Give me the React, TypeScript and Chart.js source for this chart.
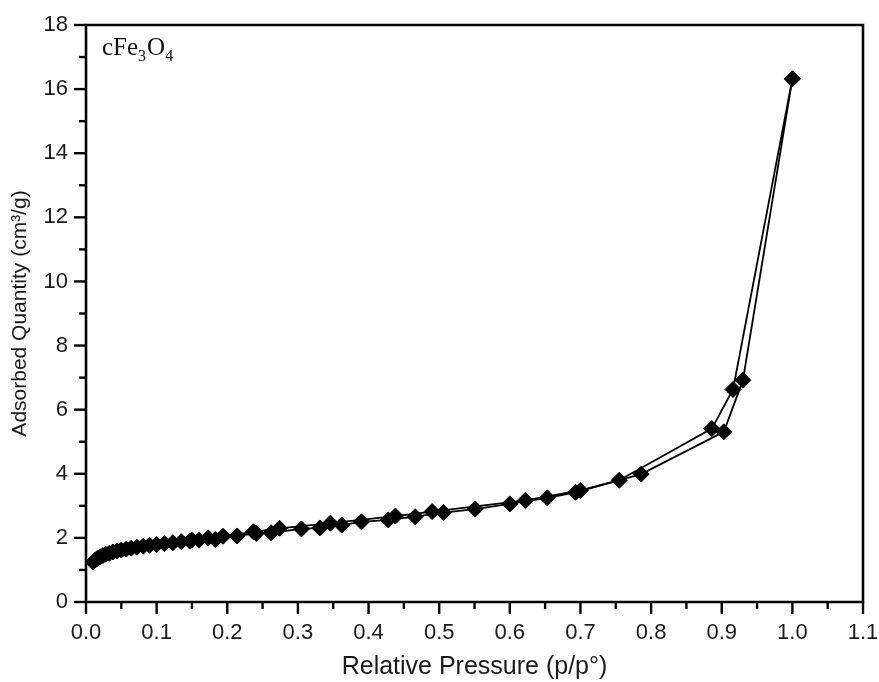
import React, { useEffect, useRef } from 'react';
import { Chart, registerables } from 'chart.js';

Chart.register(...registerables);

// Adsorption branch (relative pressure, adsorbed quantity)
const adsorptionP = [
  0.010, 0.013, 0.016, 0.020, 0.024, 0.028, 0.033, 0.038, 0.044, 0.050, 0.057,
  0.064, 0.072, 0.081, 0.090, 0.100, 0.111, 0.123, 0.135, 0.147, 0.160, 0.183,
  0.214, 0.241, 0.262, 0.305, 0.331, 0.362, 0.390, 0.428, 0.466, 0.506, 0.551,
  0.600, 0.653, 0.693, 0.786, 0.903, 0.930, 1.000,
];
const adsorptionQ = [
  1.25, 1.31, 1.36, 1.41, 1.45, 1.49, 1.52, 1.56, 1.59, 1.62, 1.65,
  1.68, 1.71, 1.74, 1.77, 1.79, 1.82, 1.85, 1.88, 1.90, 1.93, 1.95,
  2.06, 2.14, 2.16, 2.28, 2.31, 2.40, 2.50, 2.56, 2.66, 2.79, 2.90,
  3.06, 3.25, 3.42, 3.99, 5.31, 6.92, 16.32,
];

// Desorption branch
const desorptionP = [
  1.000, 0.916, 0.886, 0.755, 0.700, 0.622, 0.490, 0.438, 0.346, 0.274,
  0.237, 0.194, 0.173, 0.150,
];
const desorptionQ = [
  16.32, 6.63, 5.41, 3.80, 3.48, 3.17, 2.82, 2.68, 2.46, 2.30,
  2.19, 2.05, 2.00, 1.93,
];

const xTickLabels = ['0.0', '0.1', '0.2', '0.3', '0.4', '0.5', '0.6', '0.7', '0.8', '0.9', '1.0', '1.1'];
const yTickLabels = ['0', '2', '4', '6', '8', '10', '12', '14', '16', '18'];

const sampleName = [
  { text: 'c', sub: false },
  { text: 'Fe', sub: false },
  { text: '3', sub: true },
  { text: 'O', sub: false },
  { text: '4', sub: true },
];

const framePlugin = {
  id: 'frameTicks',
  afterDraw(chart: any) {
    const { ctx, chartArea } = chart;
    const { left, right, top, bottom } = chartArea;
    const xs = chart.scales.x;
    const ys = chart.scales.y;
    ctx.save();
    ctx.strokeStyle = '#000';
    ctx.lineWidth = 2.6;
    ctx.beginPath();
    ctx.rect(left, top, right - left, bottom - top);
    ctx.stroke();

    ctx.lineWidth = 2.4;
    xs.ticks.forEach((t: any, i: number) => {
      const px = xs.getPixelForValue(t.value);
      const len = i % 2 === 0 ? 12 : 7;
      ctx.beginPath();
      ctx.moveTo(px, bottom);
      ctx.lineTo(px, bottom + len);
      ctx.stroke();
    });
    ys.ticks.forEach((t: any, i: number) => {
      const py = ys.getPixelForValue(t.value);
      const len = i % 2 === 0 ? 12 : 7;
      ctx.beginPath();
      ctx.moveTo(left, py);
      ctx.lineTo(left - len, py);
      ctx.stroke();
    });

    // sample label
    ctx.fillStyle = '#111';
    ctx.textBaseline = 'alphabetic';
    ctx.textAlign = 'left';
    let cx = left + 16;
    const baseY = top + 30;
    sampleName.forEach((p) => {
      ctx.font = p.sub ? '16px "Liberation Serif", "Times New Roman", serif' : '25px "Liberation Serif", "Times New Roman", serif';
      const y = p.sub ? baseY + 6 : baseY;
      ctx.fillText(p.text, cx, y);
      cx += ctx.measureText(p.text).width + (p.sub ? 1 : 0);
    });
    ctx.restore();
  },
};

export default function App() {
  const canvasRef = useRef<HTMLCanvasElement | null>(null);

  useEffect(() => {
    document.body.style.margin = '0';
    const canvas = canvasRef.current;
    if (!canvas) return;

    const ads = adsorptionP.map((p, i) => ({ x: p, y: adsorptionQ[i] }));
    const des = desorptionP.map((p, i) => ({ x: p, y: desorptionQ[i] }));

    const tickFont = { family: '"Liberation Sans", Arial, sans-serif', size: 22 };
    const xTitleFont = { family: '"Liberation Sans", Arial, sans-serif', size: 25 };
    const yTitleFont = { family: '"Liberation Sans", Arial, sans-serif', size: 21 };

    const dsStyle = {
      borderColor: '#000',
      backgroundColor: '#000',
      borderWidth: 1.8,
      pointStyle: 'rectRot' as const,
      pointRadius: 8,
      pointBackgroundColor: '#000',
      pointBorderColor: '#000',
      pointBorderWidth: 1,
      tension: 0,
    };

    const chart = new Chart(canvas, {
      type: 'line',
      data: {
        datasets: [
          { label: 'Adsorption', data: ads, ...dsStyle },
          { label: 'Desorption', data: des, ...dsStyle },
        ],
      },
      options: {
        responsive: false,
        animation: false,
        layout: { padding: { top: 25, right: 16, left: 0, bottom: 0 } },
        plugins: {
          legend: { display: false },
          tooltip: { enabled: false },
        },
        scales: {
          x: {
            type: 'linear',
            min: 0,
            max: 1.1,
            border: { display: false },
            grid: { drawOnChartArea: false, color: 'rgba(0,0,0,0)', tickLength: 12 },
            ticks: {
              stepSize: 0.05,
              autoSkip: false,
              maxRotation: 0,
              minRotation: 0,
              padding: 6,
              color: '#1a1a1a',
              font: tickFont,
              callback: (_v: any, i: number) => (i % 2 === 0 ? xTickLabels[i / 2] : ''),
            },
            title: {
              display: true,
              text: 'Relative Pressure (p/p°)',
              color: '#1a1a1a',
              font: xTitleFont,
              padding: { top: 0, bottom: 0 },
            },
            afterFit: (s: any) => {
              s.height = 80;
              s.paddingRight = 0;
              s.paddingLeft = 0;
            },
          },
          y: {
            type: 'linear',
            min: 0,
            max: 18,
            border: { display: false },
            grid: { drawOnChartArea: false, color: 'rgba(0,0,0,0)', tickLength: 12 },
            ticks: {
              stepSize: 1,
              autoSkip: false,
              padding: 6,
              color: '#1a1a1a',
              font: tickFont,
              callback: (_v: any, i: number) => (i % 2 === 0 ? yTickLabels[i / 2] : ''),
            },
            title: {
              display: true,
              text: 'Adsorbed Quantity (cm³/g)',
              color: '#1a1a1a',
              font: yTitleFont,
              padding: { top: 8, bottom: 0 },
            },
            afterFit: (s: any) => {
              s.width = 86;
              s.paddingTop = 0;
              s.paddingBottom = 0;
            },
          },
        },
      },
      plugins: [framePlugin],
    });

    return () => chart.destroy();
  }, []);

  return (
    <div style={{ position: 'absolute', left: 0, top: 0, width: 879, height: 682, background: '#fff' }}>
      <canvas ref={canvasRef} width={879} height={682} style={{ display: 'block', width: 879, height: 682 }} />
    </div>
  );
}
